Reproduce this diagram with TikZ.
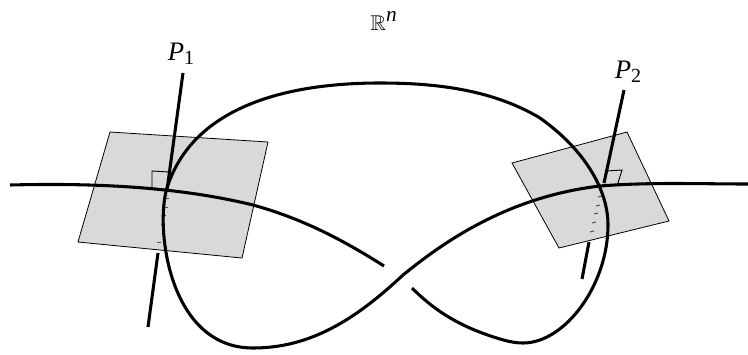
\documentclass[tikz,border=0pt]{standalone}
\usepackage{amssymb}
\usepackage{fontspec}
\setmainfont{Liberation Serif}
\usetikzlibrary{positioning}
\tikzset{
  planebox/.style={draw, line width=0.6pt, fill=black!15},
  knotline/.style={line width=2.3pt, line join=round},
  normalline/.style={line width=2.3pt},
  rightmark/.style={line width=0.7pt},
  hiddentick/.style={line width=0.7pt, black!70},
  planelabel/.style={inner sep=0pt, font=\fontsize{20}{22}\selectfont}
}
\begin{document}
\begin{tikzpicture}[x=0.75pt,y=-0.75pt]
\useasboundingbox (0,0) rectangle (748,354);
% planes
\draw[planebox] (110,132) -- (268,142) -- (242,258) -- (78,242) -- cycle;
\draw[planebox] (627,132) -- (669,221) -- (559,248) -- (512,163) -- cycle;
% right angle marks
\draw[rightmark] (152,187) -- (152,171) -- (169,172);
\draw[rightmark] (606,171) -- (622,170) -- (617,186);
% normal lines
\coordinate (topA) at (183,73);
\coordinate (midA) at (167,190);
\coordinate (lowA) at (158,253);
\coordinate (endA) at (148,327);
\coordinate (topB) at (624,90);
\coordinate (midB) at (604,183);
\coordinate (lowB) at (589,242);
\coordinate (endB) at (582,279);
\draw[normalline] (topA) -- (midA);
\draw[normalline] (lowA) -- (endA);
\draw[normalline] (topB) -- (midB);
\draw[normalline] (lowB) -- (endB);
% hidden part of the normals
\foreach \x/\y in {167/198,166/207,164/215,163/224,159/242}
  \draw[hiddentick] (\x-2,\y) -- (\x+2,\y);
\foreach \x/\y in {600/197,598/206,596/214,594/223,592/232}
  \draw[hiddentick] (\x-2,\y) -- (\x+2,\y-1);
% the curve
\draw[knotline] (10,185) .. controls (90,183) and (175,186) .. (253,205)
  .. controls (300,218) and (340,238) .. (384,266);
\draw[knotline] (412,288) .. controls (435,311) and (460,327) .. (500,339)
  .. controls (510,342) and (517,343) .. (523,343)
  .. controls (565,343) and (608,285) .. (608,225)
  .. controls (608,190) and (585,150) .. (540,118)
  .. controls (490,88) and (430,83) .. (380,83)
  .. controls (270,83) and (190,115) .. (167,188)
  .. controls (155,226) and (168,348) .. (253,348)
  .. controls (310,348) and (355,320) .. (403,275)
  .. controls (440,245) and (505,197) .. (600,186)
  .. controls (650,182) and (700,184) .. (748,184);
% labels
\node[planelabel] (labelA) at (181,54) {\textit{P}\raisebox{-3pt}{\fontsize{15}{17}\selectfont 1}};
\node[planelabel] (labelB) at (628,72) {\textit{P}\raisebox{-3pt}{\fontsize{15}{17}\selectfont 2}};
\node[inner sep=0pt, font=\fontsize{16}{18}\selectfont] (space) at (384,21) {$\mathbb{R}^{\textit{n}}$};
\end{tikzpicture}
\end{document}
